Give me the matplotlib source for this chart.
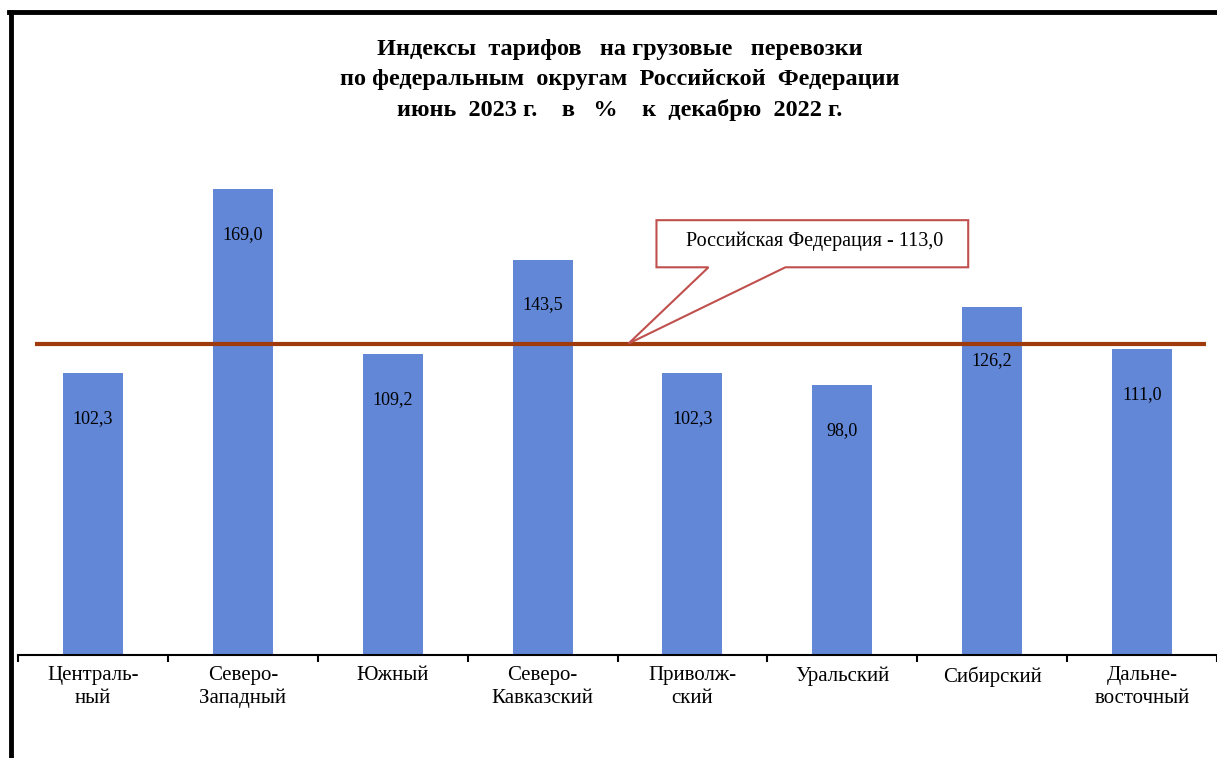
import matplotlib
matplotlib.use("Agg")
import matplotlib.pyplot as plt
from matplotlib.patches import Polygon
from matplotlib.lines import Line2D

# данные
okruga = ["Централь-\nный", "Северо-\nЗападный", "Южный", "Северо-\nКавказский",
          "Приволж-\nский", "Уральский", "Сибирский", "Дальне-\nвосточный"]
indeksy = [102.3, 169.0, 109.2, 143.5, 102.3, 98.0, 126.2, 111.0]
rf_indeks = 113.0
rf_podpis = "Российская Федерация - 113,0"
zagolovok = ("Индексы  тарифов   на грузовые   перевозки\n"
             "по федеральным  округам  Российской  Федерации\n"
             "июнь  2023 г.    в   %    к  декабрю  2022 г.")

plt.rcParams['font.family'] = ['Liberation Serif', 'DejaVu Serif']

fig = plt.figure(figsize=(12.17, 7.58), dpi=100)
ax = fig.add_axes([18 / 1217, 1 - 655 / 758, 1 - 18 / 1217, 496 / 758])

x = list(range(len(okruga)))
ax.bar(x, indeksy, width=0.4, color='#6187D6', zorder=2)
for xi, v in zip(x, indeksy):
    y = v - 16.5
    # подпись не должна наезжать на линию РФ
    if abs(y - rf_indeks) < 6:
        y = rf_indeks - 6
    ax.text(xi, y, f"{v:.1f}".replace('.', ','), ha='center', va='center',
            fontsize=13, zorder=3)

ax.set_xlim(-0.5, len(okruga) - 0.5)
ax.set_ylim(0, 180)

# линия по РФ
ax.plot([-0.387, 7.427], [rf_indeks, rf_indeks], color='#9E3A0B', lw=3, zorder=4,
        solid_capstyle='butt')

# выноска
vynoska = Polygon([(3.76, 157.8), (5.84, 157.8), (5.84, 140.7), (4.62, 140.7),
                   (3.573, rf_indeks), (4.107, 140.7), (3.76, 140.7)],
                  closed=True, facecolor='white', edgecolor='#C0504D', lw=1.5, zorder=5)
ax.add_patch(vynoska)
ax.text(4.813, 150.2, rf_podpis, ha='center', va='center', fontsize=14.5, zorder=6)

# оси
for s in ['top', 'right', 'left']:
    ax.spines[s].set_visible(False)
ax.spines['bottom'].set_linewidth(1.5)
ax.set_yticks([])
ax.set_xticks(x)
ax.set_xticklabels(okruga, fontsize=15, linespacing=1.25)
ax.tick_params(axis='x', which='major', length=0, pad=8)
ax.set_xticks([i - 0.5 for i in range(len(okruga) + 1)], minor=True)
ax.tick_params(axis='x', which='minor', length=5, width=1.5, direction='out')

fig.text(620 / 1217, 1 - 80 / 758, zagolovok, ha='center', va='center',
         fontsize=17.5, fontweight='bold', linespacing=1.55)

# рамка
fig.add_artist(Line2D([9 / 1217, 1], [1 - 12 / 758, 1 - 12 / 758], color='black', lw=3.5))
fig.add_artist(Line2D([11 / 1217, 11 / 1217], [0, 1 - 12 / 758], color='black', lw=3.5))

fig.savefig("out.png", dpi=100)
